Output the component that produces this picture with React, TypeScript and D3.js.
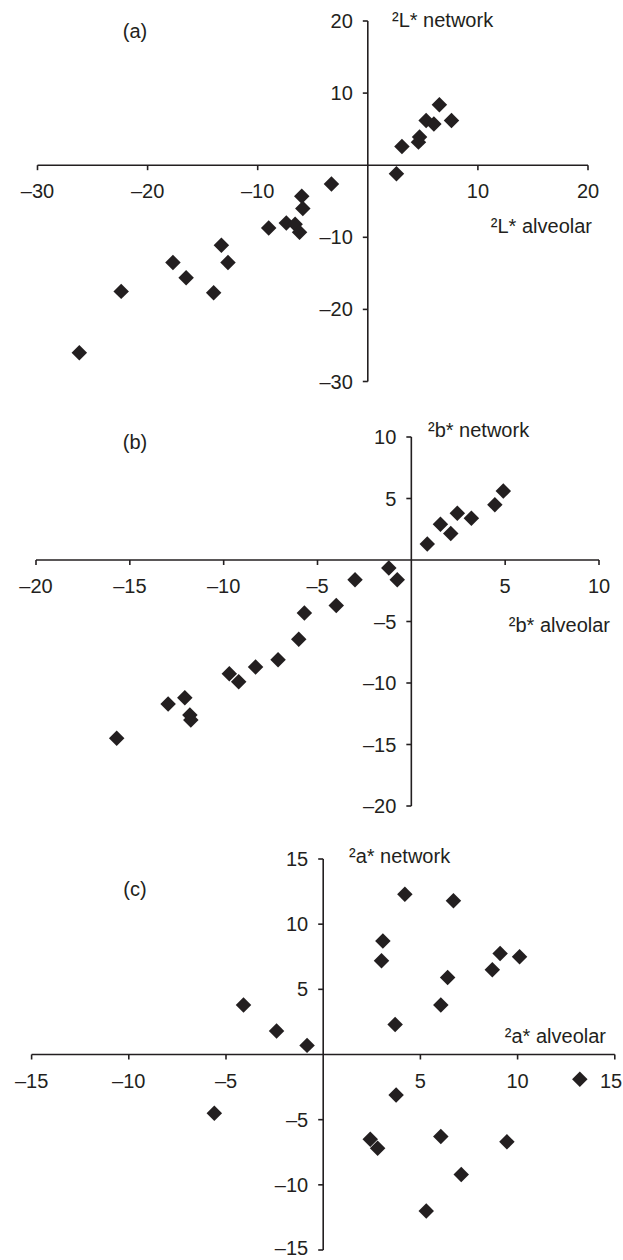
import React, { useEffect, useRef } from "react";
import * as d3 from "d3";

// panel (a): ΔL*
const lAlveolar = [6.5, 5.3, 6.0, 7.6, 4.7, 4.6, 3.1, 2.6, -3.3, -6.0, -5.9, -9.0, -7.4, -6.6, -6.2, -13.3, -12.7, -17.7, -16.5, -14.0, -22.4, -26.2];
const lNetwork = [8.4, 6.2, 5.7, 6.2, 3.9, 3.2, 2.6, -1.2, -2.6, -4.3, -6.0, -8.7, -8.0, -8.2, -9.3, -11.1, -13.5, -13.5, -15.6, -17.7, -17.5, -26.0];
const lTicksX = [-30, -20, -10, 10, 20];
const lTicksY = [20, 10, -10, -20, -30];

// panel (b): Δb*
const bAlveolar = [4.9, 4.45, 2.45, 3.2, 1.55, 2.1, 0.85, -1.2, -0.75, -3.0, -4.0, -5.7, -6.0, -7.1, -8.3, -9.7, -9.2, -12.07, -12.96, -11.8, -11.75, -15.7];
const bNetwork = [5.6, 4.5, 3.8, 3.4, 2.9, 2.15, 1.3, -0.65, -1.6, -1.6, -3.7, -4.3, -6.45, -8.1, -8.7, -9.25, -9.9, -11.2, -11.7, -12.6, -13.0, -14.5];
const bTicksX = [-20, -15, -10, -5, 5, 10];
const bTicksY = [10, 5, -5, -10, -15, -20];

// panel (c): Δa*
const aAlveolar = [4.2, 6.7, 3.07, 3.0, 9.1, 10.1, 8.7, 6.4, 6.05, 3.7, -4.1, -2.4, -0.83, 13.2, 3.75, -5.6, 2.42, 2.8, 6.05, 9.45, 7.1, 5.3];
const aNetwork = [12.3, 11.8, 8.7, 7.2, 7.75, 7.5, 6.5, 5.9, 3.8, 2.3, 3.8, 1.8, 0.7, -1.9, -3.1, -4.5, -6.5, -7.2, -6.3, -6.7, -9.2, -12.0];
const aTicksX = [-15, -10, -5, 5, 10, 15];
const aTicksY = [15, 10, 5, -5, -10, -15];

const ink = "#231f20";
const font = "'Liberation Sans', Arial, Helvetica, sans-serif";
const W = 623;
const H = 1260;

// square turned 45 degrees
const diamond = {
  draw(ctx, size) {
    const r = Math.sqrt(size / 2);
    ctx.moveTo(0, -r);
    ctx.lineTo(r, 0);
    ctx.lineTo(0, r);
    ctx.lineTo(-r, 0);
    ctx.closePath();
  },
};

const fmt = (v: number) => (v < 0 ? "\u2013" + Math.abs(v) : String(v));

const panels = [
  {
    letter: "(a)", letterPos: [135, 38],
    xs: lAlveolar, ys: lNetwork, ticksX: lTicksX, ticksY: lTicksY,
    xDomain: [-30, 20], xRange: [37.5, 588], yDomain: [-30, 20], yRange: [381.5, 21],
    yLabel: "\u00b2L* network", yLabelPos: [392, 27],
    xLabel: "\u00b2L* alveolar", xLabelPos: [592, 233],
  },
  {
    letter: "(b)", letterPos: [135, 449],
    xs: bAlveolar, ys: bNetwork, ticksX: bTicksX, ticksY: bTicksY,
    xDomain: [-20, 10], xRange: [36, 599], yDomain: [-20, 10], yRange: [806, 437],
    yLabel: "\u00b2b* network", yLabelPos: [428, 437],
    xLabel: "\u00b2b* alveolar", xLabelPos: [610, 632],
  },
  {
    letter: "(c)", letterPos: [135, 896],
    xs: aAlveolar, ys: aNetwork, ticksX: aTicksX, ticksY: aTicksY,
    xDomain: [-15, 15], xRange: [31.6, 614.8], yDomain: [-15, 15], yRange: [1250, 859],
    yLabel: "\u00b2a* network", yLabelPos: [349, 863],
    xLabel: "\u00b2a* alveolar", xLabelPos: [606, 1043],
  },
];

export default function App() {
  const ref = useRef(null);

  useEffect(() => {
    const svg = d3.select(ref.current);
    svg.selectAll("*").remove();
    svg.attr("font-family", font).attr("font-size", 20).attr("fill", ink);

    panels.forEach((p) => {
      const x = d3.scaleLinear().domain(p.xDomain).range(p.xRange);
      const y = d3.scaleLinear().domain(p.yDomain).range(p.yRange);
      const g = svg.append("g");
      const x0 = x(0);
      const y0 = y(0);

      // axes
      g.append("line")
        .attr("x1", p.xRange[0]).attr("x2", p.xRange[1])
        .attr("y1", y0).attr("y2", y0)
        .attr("stroke", ink).attr("stroke-width", 1.6);
      g.append("line")
        .attr("x1", x0).attr("x2", x0)
        .attr("y1", p.yRange[1]).attr("y2", p.yRange[0])
        .attr("stroke", ink).attr("stroke-width", 1.6);

      g.selectAll(".tx").data(p.ticksX).enter().append("line")
        .attr("x1", (d) => x(d)).attr("x2", (d) => x(d))
        .attr("y1", y0).attr("y2", y0 + 5)
        .attr("stroke", ink).attr("stroke-width", 1.6);
      g.selectAll(".txl").data(p.ticksX).enter().append("text")
        .attr("x", (d) => Math.min(x(d), W - 12))
        .attr("y", y0 + 33)
        .attr("text-anchor", "middle")
        .text((d) => fmt(d));

      g.selectAll(".ty").data(p.ticksY).enter().append("line")
        .attr("x1", x0 - 5).attr("x2", x0)
        .attr("y1", (d) => y(d)).attr("y2", (d) => y(d))
        .attr("stroke", ink).attr("stroke-width", 1.6);
      g.selectAll(".tyl").data(p.ticksY).enter().append("text")
        .attr("x", x0 - 15)
        .attr("y", (d) => Math.min(y(d) + 7, H - 5))
        .attr("text-anchor", "end")
        .text((d) => fmt(d));

      // labels
      g.append("text").attr("x", p.letterPos[0]).attr("y", p.letterPos[1])
        .attr("text-anchor", "middle").text(p.letter);
      g.append("text").attr("x", p.yLabelPos[0]).attr("y", p.yLabelPos[1]).text(p.yLabel);
      g.append("text").attr("x", p.xLabelPos[0]).attr("y", p.xLabelPos[1])
        .attr("text-anchor", "end").text(p.xLabel);

      // points
      const sym = d3.symbol().type(diamond).size(120);
      g.selectAll("path.pt").data(p.xs.map((v, i) => [v, p.ys[i]])).enter().append("path")
        .attr("class", "pt")
        .attr("d", sym)
        .attr("transform", (d) => `translate(${x(d[0])},${y(d[1])})`)
        .attr("fill", ink);
    });
  }, []);

  return (
    <svg
      ref={ref}
      width={W}
      height={H}
      style={{ position: "absolute", left: 0, top: 0, background: "#fff" }}
    />
  );
}
